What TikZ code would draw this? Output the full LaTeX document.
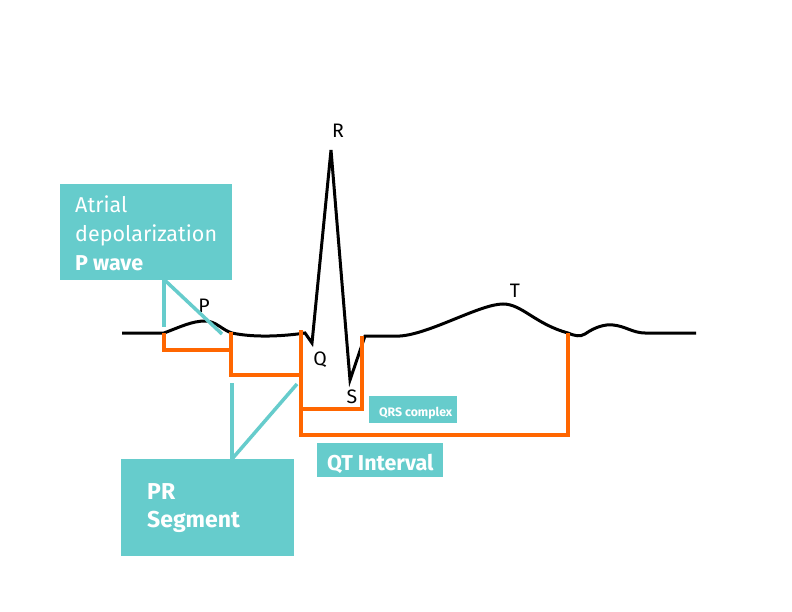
\documentclass[tikz,border=0pt]{standalone}
\usepackage{fontspec}
\setmainfont{Fira Sans}
\definecolor{teal2}{RGB}{102,204,204}
\definecolor{orng}{RGB}{255,102,0}
\begin{document}
\begin{tikzpicture}[x=1pt,y=-1pt,
 ecg/.style={line width=3pt, black, line join=miter},
 brk/.style={line width=3.5pt, orng, line join=miter},
 lead/.style={line width=3.5pt, teal2},
 tbox/.style={fill=teal2, draw=none, inner sep=0pt, anchor=north west},
 wt/.style={text=white, inner sep=0pt, anchor=base west, font=\fontsize{21.5}{25}\selectfont},
 lbl/.style={inner sep=0pt, anchor=base, font=\fontsize{19.5}{23}\selectfont}]
\useasboundingbox[fill=white] (0,0) rectangle (792,612);
% boxes
\node[tbox, minimum width=172pt, minimum height=96pt] (pwbox) at (60,184) {};
\node[tbox, minimum width=173pt, minimum height=97pt] (prbox) at (121,459) {};
\node[tbox, minimum width=88pt, minimum height=27pt] (qrsbox) at (369,396) {};
\node[tbox, minimum width=126pt, minimum height=34pt] (qtbox) at (317,443) {};
% box texts
\node[wt] (t1) at (75,213) {Atrial};
\node[wt] (t2) at (75,242) {depolarization};
\node[wt, font=\fontsize{21.5}{25}\selectfont\bfseries] (t3) at (75,271) {P wave};
\node[wt, font=\fontsize{23}{27}\selectfont\bfseries] (t4) at (147,499) {PR};
\node[wt, font=\fontsize{23}{27}\selectfont\bfseries] (t5) at (147,527) {Segment};
\node[wt, font=\fontsize{12.3}{14}\selectfont\bfseries] (t6) at (379,416) {QRS complex};
\node[wt, font=\fontsize{21.5}{25}\selectfont\bfseries] (t7) at (327,470) {QT Interval};
% ECG trace
\draw[ecg] (122,333) -- (164,333)
  .. controls (180,327) and (192,321) .. (205,321)
  .. controls (216,321) and (222,330) .. (232,333)
  .. controls (255,338) and (285,336) .. (305,333)
  -- (312,343) -- (331,150) -- (350,380) -- (365,336) -- (400,336)
  .. controls (430,334) and (480,304) .. (503,304)
  .. controls (522,304) and (535,324) .. (568,333)
  .. controls (575,336) and (580,337) .. (585,334)
  .. controls (595,327) and (605,324) .. (613,325)
  .. controls (625,326) and (633,333) .. (645,333)
  -- (696,333);
% wave labels
\node[lbl] (lp) at (204,312) {P};
\node[lbl] (lr) at (338,138) {R};
\node[lbl] (lq) at (320,365) {Q};
\node[lbl] (ls) at (352,403) {S};
\node[lbl] (lt) at (515,297) {T};
% orange brackets
\draw[brk] (164,333) -- (164,350) -- (231,350);
\draw[brk] (231,332) -- (231,375) -- (301,375);
\draw[brk] (301,330) -- (301,435) -- (568,435) -- (568,333);
\draw[brk] (301,409) -- (362,409) -- (362,336);
% teal leaders
\coordinate (pa) at (164,327);
\coordinate (pb) at (222,334);
\draw[lead] (pa |- pwbox.south) -- (pa);
\draw[lead] ([xshift=105pt]pwbox.south west) -- (pb);
\coordinate (prt) at (232,383);
\coordinate (prd) at (297,384);
\draw[lead] (prt) -- (prt |- prbox.north);
\draw[lead] (prt |- prbox.north) -- (prd);
\end{tikzpicture}
\end{document}
